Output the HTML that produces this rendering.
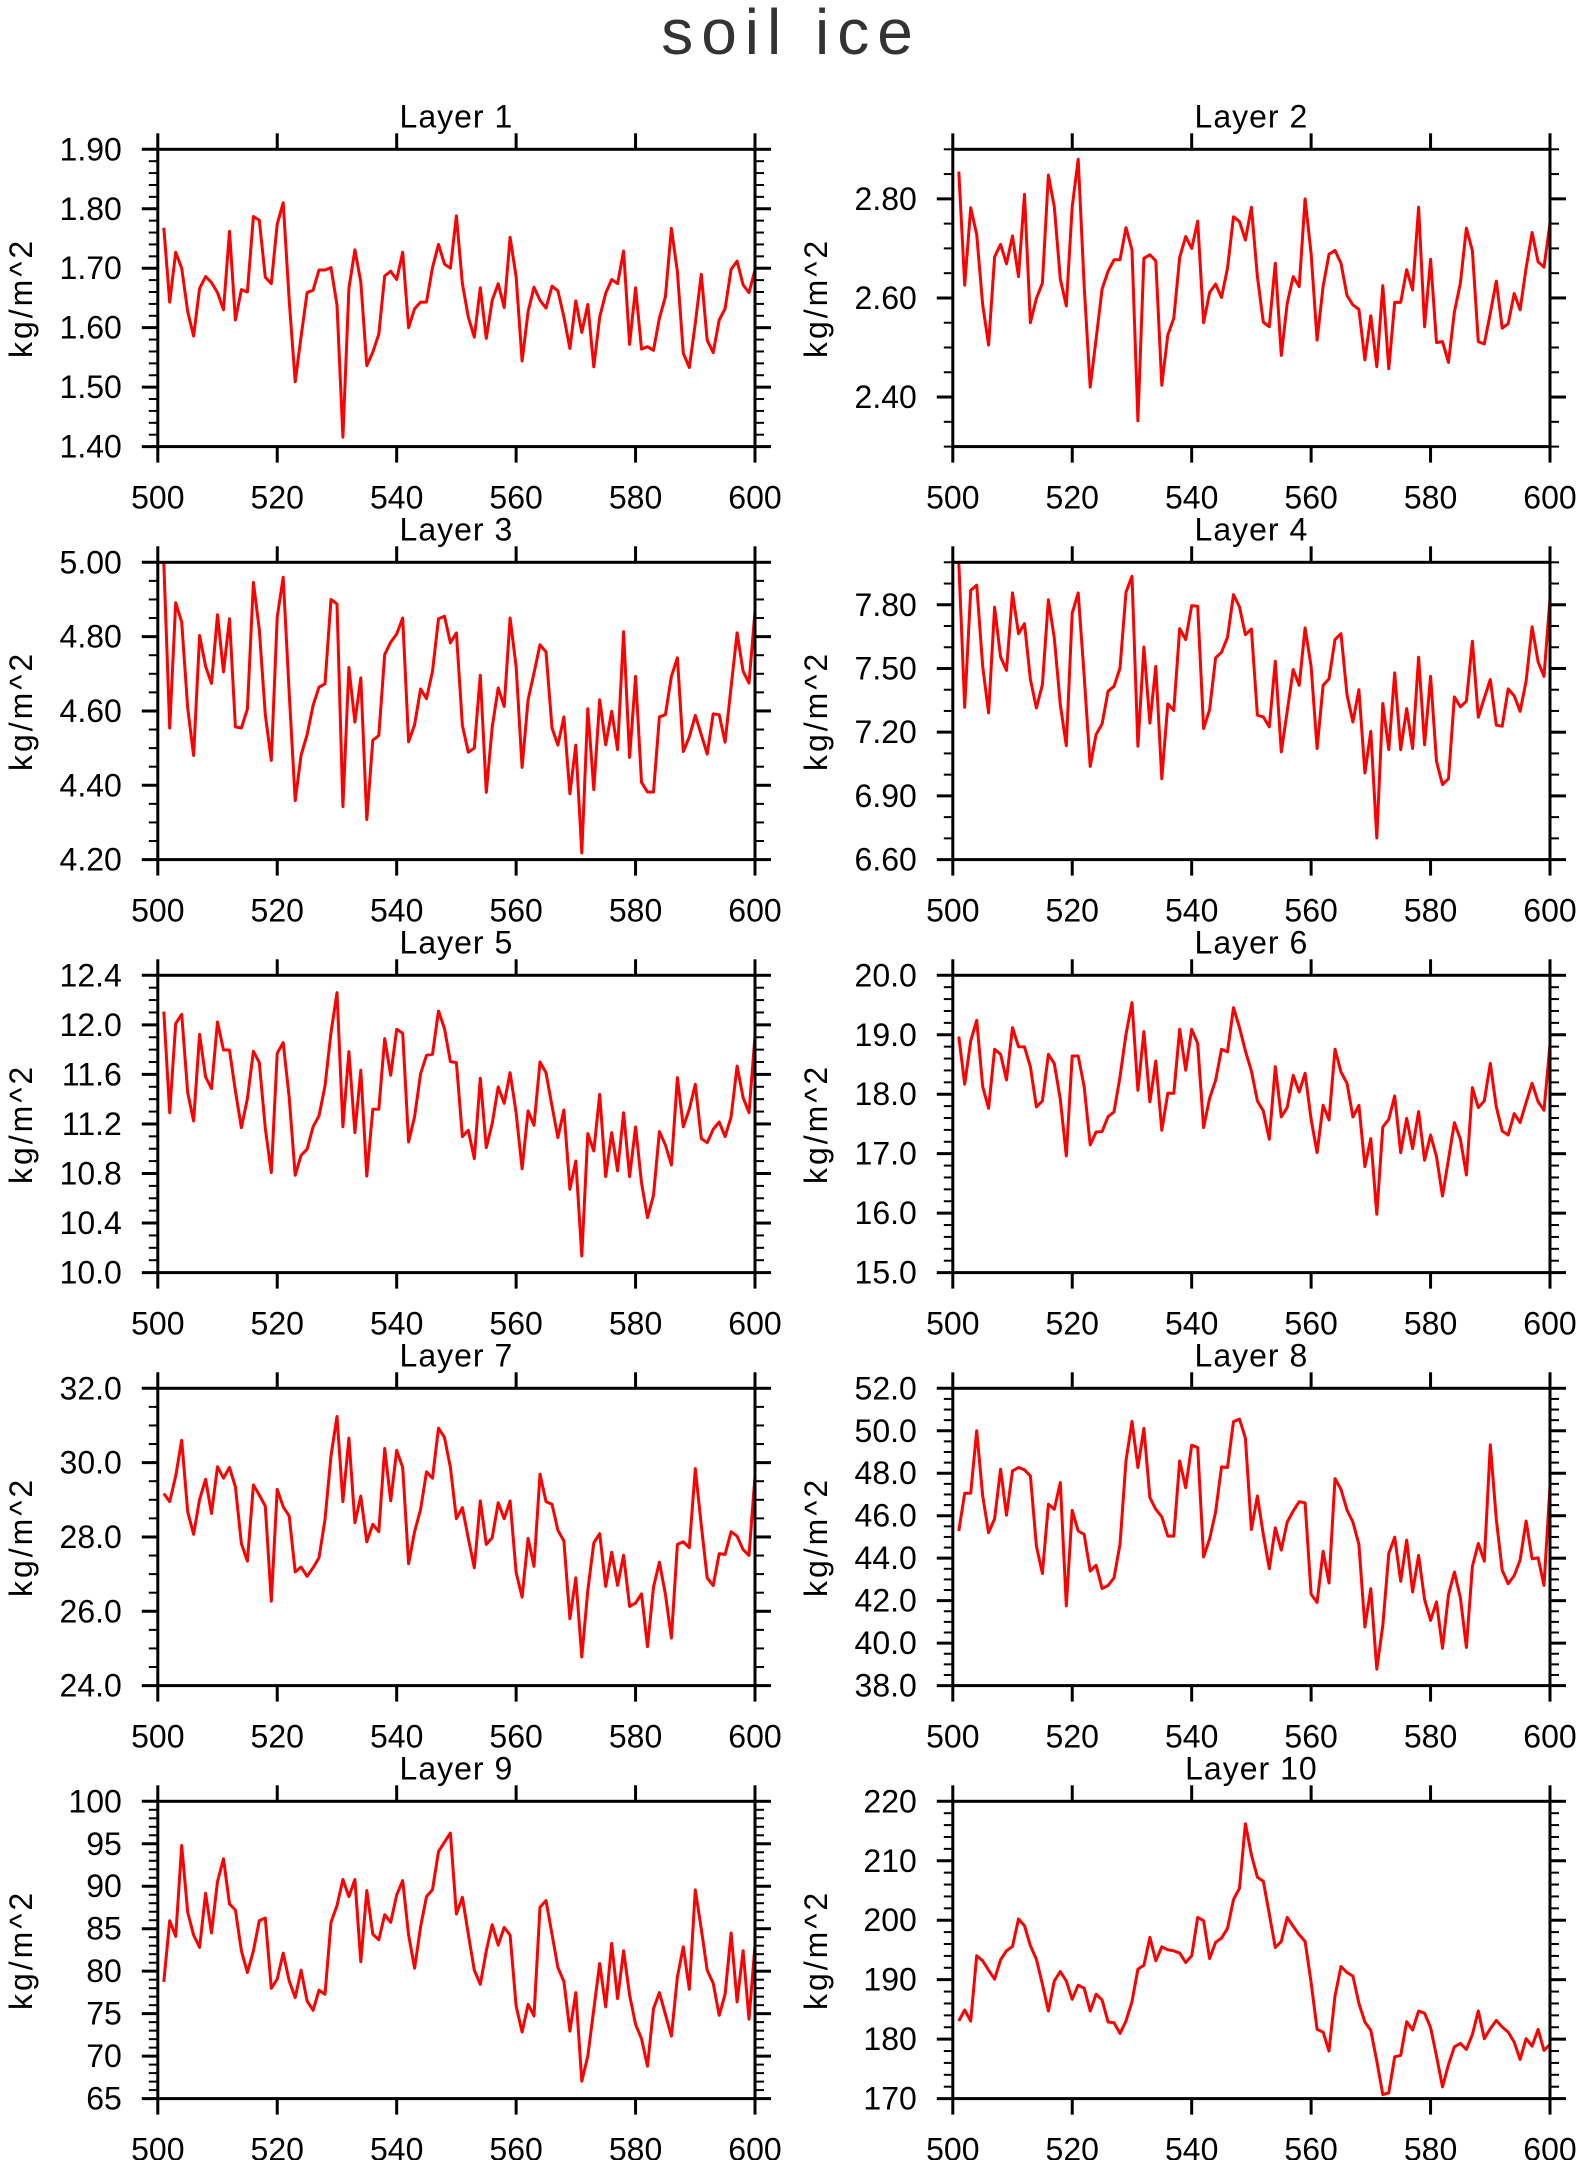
<!DOCTYPE html>
<html><head><meta charset="utf-8"><title>soil ice</title>
<style>html,body{margin:0;padding:0;background:#fff}svg{display:block}text{font-family:"Liberation Sans",sans-serif;fill:#000}</style>
</head><body>
<svg id="chart" xmlns="http://www.w3.org/2000/svg" width="1580" height="2160" viewBox="0 0 1580 2160">
<rect x="0" y="0" width="1580" height="2160" fill="#fff"/>
<text x="791" y="54" font-size="64" text-anchor="middle" letter-spacing="8" style="font-weight:normal;fill:#333">soil ice</text>
</svg>
<script>
const years = [];
for (let i = 501; i <= 600; i++) years.push(i);
const xTicks = [500, 520, 540, 560, 580, 600];
const layerNames = ["Layer 1","Layer 2","Layer 3","Layer 4","Layer 5","Layer 6","Layer 7","Layer 8","Layer 9","Layer 10"];
const layer1 = [1.768,1.643,1.727,1.700,1.627,1.586,1.666,1.686,1.676,1.659,1.630,1.762,1.613,1.664,1.660,1.787,1.781,1.685,1.674,1.774,1.810,1.646,1.509,1.585,1.659,1.663,1.697,1.697,1.701,1.638,1.416,1.666,1.731,1.677,1.536,1.559,1.589,1.687,1.695,1.681,1.727,1.600,1.632,1.643,1.643,1.701,1.740,1.707,1.700,1.788,1.674,1.618,1.584,1.667,1.582,1.646,1.674,1.634,1.752,1.686,1.544,1.627,1.668,1.646,1.633,1.670,1.662,1.618,1.565,1.645,1.592,1.639,1.534,1.618,1.658,1.681,1.674,1.729,1.572,1.667,1.564,1.568,1.562,1.616,1.652,1.767,1.694,1.557,1.533,1.607,1.690,1.579,1.558,1.613,1.632,1.698,1.712,1.672,1.659,1.697];
const layer2 = [2.855,2.626,2.782,2.728,2.586,2.505,2.683,2.708,2.669,2.725,2.643,2.809,2.550,2.599,2.630,2.848,2.784,2.638,2.584,2.784,2.880,2.623,2.420,2.517,2.618,2.654,2.677,2.677,2.742,2.697,2.352,2.680,2.687,2.675,2.424,2.525,2.559,2.682,2.724,2.700,2.755,2.550,2.611,2.628,2.601,2.660,2.764,2.754,2.717,2.783,2.643,2.551,2.542,2.670,2.484,2.589,2.643,2.623,2.800,2.690,2.515,2.623,2.688,2.696,2.670,2.605,2.586,2.577,2.475,2.564,2.461,2.625,2.457,2.591,2.591,2.657,2.616,2.783,2.542,2.678,2.510,2.512,2.470,2.572,2.630,2.741,2.695,2.512,2.507,2.569,2.634,2.539,2.548,2.609,2.576,2.660,2.732,2.673,2.662,2.751];
const layer3 = [5.000,4.554,4.891,4.839,4.608,4.480,4.803,4.720,4.674,4.859,4.705,4.848,4.557,4.554,4.605,4.946,4.819,4.590,4.467,4.852,4.960,4.648,4.359,4.481,4.536,4.615,4.664,4.673,4.900,4.888,4.343,4.717,4.570,4.689,4.308,4.521,4.534,4.752,4.785,4.807,4.850,4.517,4.563,4.659,4.633,4.707,4.848,4.855,4.783,4.810,4.561,4.489,4.500,4.696,4.381,4.556,4.662,4.612,4.850,4.720,4.448,4.630,4.702,4.778,4.759,4.554,4.508,4.584,4.377,4.508,4.218,4.606,4.388,4.630,4.509,4.599,4.496,4.813,4.475,4.693,4.408,4.382,4.382,4.584,4.590,4.693,4.743,4.491,4.530,4.588,4.536,4.484,4.592,4.590,4.516,4.665,4.810,4.707,4.675,4.868];
const layer4 = [8.000,7.317,7.868,7.892,7.510,7.291,7.788,7.554,7.491,7.856,7.664,7.711,7.448,7.314,7.424,7.824,7.644,7.330,7.137,7.761,7.856,7.463,7.039,7.189,7.239,7.393,7.416,7.502,7.859,7.934,7.134,7.601,7.243,7.510,6.981,7.333,7.302,7.688,7.636,7.796,7.793,7.217,7.306,7.550,7.576,7.647,7.848,7.790,7.659,7.686,7.280,7.272,7.225,7.534,7.107,7.298,7.495,7.421,7.691,7.510,7.123,7.421,7.451,7.636,7.664,7.377,7.248,7.400,7.008,7.204,6.702,7.335,7.118,7.479,7.118,7.311,7.123,7.553,7.141,7.463,7.063,6.953,6.981,7.366,7.319,7.346,7.628,7.270,7.361,7.448,7.233,7.228,7.404,7.372,7.298,7.440,7.696,7.531,7.463,7.832];
const layer5 = [12.107,11.291,12.010,12.085,11.453,11.224,11.924,11.579,11.485,12.023,11.797,11.797,11.466,11.170,11.404,11.787,11.695,11.165,10.807,11.770,11.857,11.413,10.786,10.947,10.996,11.178,11.265,11.507,11.937,12.260,11.178,11.784,11.130,11.633,10.780,11.318,11.318,11.889,11.593,11.964,11.932,11.055,11.259,11.606,11.754,11.762,12.112,11.970,11.703,11.695,11.098,11.149,10.920,11.569,11.009,11.203,11.499,11.367,11.614,11.291,10.839,11.305,11.189,11.700,11.614,11.345,11.090,11.313,10.673,10.901,10.135,11.122,10.982,11.439,10.775,11.130,10.821,11.291,10.775,11.176,10.726,10.444,10.624,11.138,11.030,10.869,11.574,11.178,11.318,11.520,11.082,11.049,11.157,11.216,11.098,11.257,11.668,11.413,11.291,11.910];
const layer6 = [18.969,18.167,18.896,19.243,18.128,17.763,18.756,18.672,18.240,19.120,18.800,18.795,18.459,17.786,17.887,18.672,18.515,17.915,16.962,18.643,18.643,18.122,17.147,17.365,17.371,17.623,17.702,18.290,19.008,19.540,18.066,19.053,17.870,18.559,17.394,18.016,18.016,19.092,18.402,19.092,18.851,17.438,17.932,18.234,18.756,18.711,19.456,19.120,18.728,18.391,17.887,17.719,17.242,18.464,17.618,17.775,18.318,18.038,18.352,17.578,17.018,17.814,17.567,18.756,18.374,18.184,17.618,17.814,16.782,17.253,15.981,17.450,17.578,17.971,17.018,17.595,17.085,17.707,16.889,17.315,16.951,16.289,16.906,17.522,17.242,16.642,18.111,17.775,17.887,18.520,17.786,17.382,17.315,17.674,17.522,17.859,18.184,17.876,17.730,18.840];
const layer7 = [29.17,28.95,29.64,30.60,28.68,28.07,29.01,29.55,28.63,29.89,29.58,29.87,29.35,27.82,27.35,29.40,29.13,28.83,26.27,29.28,28.81,28.56,27.06,27.19,26.94,27.17,27.44,28.47,30.18,31.24,28.95,30.66,28.38,29.10,27.87,28.34,28.14,30.38,28.97,30.33,29.87,27.28,28.14,28.74,29.75,29.58,30.93,30.68,29.87,28.49,28.79,27.96,27.17,28.97,27.80,27.98,28.92,28.49,28.97,27.05,26.38,27.96,27.21,29.69,28.95,28.88,28.18,27.89,25.80,26.90,24.77,26.56,27.84,28.09,26.67,27.59,26.70,27.51,26.13,26.22,26.47,25.05,26.65,27.32,26.46,25.28,27.80,27.87,27.71,29.84,28.31,26.90,26.69,27.55,27.53,28.14,28.02,27.66,27.50,29.64];
const layer8 = [45.28,47.06,47.06,50.00,46.93,45.20,45.86,48.19,46.02,48.11,48.27,48.16,47.87,44.57,43.28,46.54,46.30,47.56,41.76,46.25,45.28,45.12,43.39,43.67,42.57,42.72,43.07,44.65,48.58,50.44,48.27,50.11,46.85,46.30,45.95,45.04,45.04,48.58,47.32,49.32,49.21,44.06,44.91,46.17,48.30,48.27,50.43,50.55,49.65,45.35,46.93,45.12,43.51,45.43,44.38,45.70,46.22,46.66,46.61,42.31,41.92,44.33,42.83,47.75,47.24,46.27,45.70,44.65,40.76,42.57,38.77,40.83,44.22,44.99,42.91,44.85,42.41,44.13,42.05,41.07,41.94,39.76,42.28,43.35,42.13,39.80,43.62,44.69,43.86,49.34,45.83,43.43,42.80,43.18,43.91,45.75,43.97,44.02,42.72,47.40];
const layer9 = [78.74,85.94,84.09,94.80,86.93,84.25,82.80,89.17,84.49,90.55,93.23,87.91,87.20,82.40,79.84,82.40,85.94,86.26,77.99,79.06,82.13,78.86,76.89,80.12,76.50,75.39,77.76,77.28,85.75,87.72,90.79,88.78,90.79,81.10,89.49,84.37,83.70,86.65,85.75,88.98,90.67,84.25,80.35,85.24,88.78,89.61,94.09,95.20,96.26,86.73,88.70,84.37,80.12,78.46,82.40,85.47,83.07,85.16,84.25,75.91,72.84,76.10,74.72,87.52,88.31,84.37,80.43,78.78,72.95,77.48,67.05,70.00,75.51,80.91,75.79,83.27,76.77,82.40,77.20,73.74,72.05,68.82,75.59,77.48,74.92,72.36,79.33,82.87,77.87,89.57,84.96,80.12,78.58,74.80,77.28,84.49,76.38,82.40,74.33,83.07];
const layer10 = [183.05,184.90,183.05,194.02,193.17,191.60,190.08,193.34,194.86,195.59,200.20,199.08,195.70,193.45,189.23,184.74,189.80,191.37,189.80,186.70,189.07,188.56,184.74,187.55,186.59,182.88,182.77,180.97,183.05,186.31,191.77,192.44,197.11,193.17,195.53,195.03,194.86,194.47,192.89,194.02,200.48,199.92,193.57,196.27,197.00,198.63,203.46,205.38,216.23,211.00,207.23,206.56,201.05,195.42,196.43,200.48,198.97,197.56,196.43,189.52,181.64,181.19,177.99,187.27,192.22,191.20,190.64,186.03,182.88,181.47,176.30,170.67,170.96,177.03,177.26,182.94,181.53,184.74,184.34,181.92,177.14,171.97,175.74,178.72,179.28,178.27,180.80,184.74,180.07,181.76,183.16,182.04,181.19,179.50,176.58,180.07,178.83,181.64,178.10,179.11];
const layerValues = [layer1,layer2,layer3,layer4,layer5,layer6,layer7,layer8,layer9,layer10];
const yMins = [1.4,2.3,4.2,6.6,10.0,15,24,38,65,170];
const yMaxs = [1.9,2.9,5.0,8.0,12.4,20,32,52,100,220];
const yMajorStarts = [1.4,2.4,4.2,6.6,10.0,15,24,38,65,170];
const yMajorSteps = [0.1,0.2,0.2,0.3,0.4,1,2,2,5,10];
const yMinorSteps = [0.02,0.05,0.05,0.1,0.1,0.2,0.5,0.5,1,2];
const yDecimals = [2,2,2,2,1,1,1,1,0,0];

const NS = "http://www.w3.org/2000/svg";
const svg = document.getElementById("chart");
const colX = [157.8, 952.8];
const plotW = 597.2, plotH = 297.3;
const rowY = [149.3, 562.3, 975.3, 1388.3, 1801.3];
function mk(tag, attrs, parent) {
  const e = document.createElementNS(NS, tag);
  for (const k in attrs) e.setAttribute(k, attrs[k]);
  parent.appendChild(e);
  return e;
}
layerValues.forEach(function (vals, p) {
  const L = colX[p % 2], T = rowY[Math.floor(p / 2)];
  const R = L + plotW, B = T + plotH;
  const ymin = yMins[p], ymax = yMaxs[p];
  const sx = v => L + (v - 500) / 100 * plotW;
  const sy = v => B - (v - ymin) / (ymax - ymin) * plotH;
  const g = mk("g", {}, svg);
  
  
  const t = mk("text", {x: L + plotW / 2, y: T - 22, "font-size": 32, "text-anchor": "middle", "letter-spacing": 1}, g);
  t.textContent = layerNames[p];
  
  
  const yt = mk("text", {x: 0, y: 0, "font-size": 32, "text-anchor": "middle", "letter-spacing": 3, transform: "translate(" + (L - 126) + "," + (T + plotH / 2) + ") rotate(-90)"}, g);
  yt.textContent = "kg/m^2";
  
  
  const nMinor = Math.round((ymax - ymin) / yMinorSteps[p]);
  for (let i = 0; i <= nMinor; i++) {
    const v = ymin + i * yMinorSteps[p], y = sy(v);
    const a = mk("line", {x1: L - 9, x2: L, y1: y, y2: y, stroke: "#000", "stroke-width": 2}, g);
    
    
    const b = mk("line", {x1: R, x2: R + 9, y1: y, y2: y, stroke: "#000", "stroke-width": 2}, g);
    
    
  }
  for (let v = yMajorStarts[p]; v <= ymax + 1e-9; v += yMajorSteps[p]) {
    const y = sy(v);
    const a = mk("line", {x1: L - 16, x2: L, y1: y, y2: y, stroke: "#000", "stroke-width": 3}, g);
    
    
    const b = mk("line", {x1: R, x2: R + 16, y1: y, y2: y, stroke: "#000", "stroke-width": 3}, g);
    
    
    const lb = mk("text", {x: L - 36, y: y + 11, "font-size": 32, "text-anchor": "end"}, g);
    lb.textContent = v.toFixed(yDecimals[p]);
    
    
  }
  xTicks.forEach(function (xv) {
    const x = sx(xv);
    const a = mk("line", {x1: x, x2: x, y1: T - 16, y2: T, stroke: "#000", "stroke-width": 3}, g);
    
    
    const b = mk("line", {x1: x, x2: x, y1: B, y2: B + 16, stroke: "#000", "stroke-width": 3}, g);
    
    
    const lb = mk("text", {x: x, y: B + 62, "font-size": 32, "text-anchor": "middle"}, g);
    lb.textContent = String(xv);
    
    
  });
  const clipId = "clip" + p;
  const cp = mk("clipPath", {id: clipId}, g);
  mk("rect", {x: L, y: T, width: plotW, height: plotH}, cp);
  const pts = vals.map((v, i) => sx(years[i]).toFixed(1) + "," + sy(v).toFixed(1)).join(" ");
  const pl = mk("polyline", {points: pts, fill: "none", stroke: "#ff0000", "stroke-width": 3, "stroke-linejoin": "round", "clip-path": "url(#" + clipId + ")"}, g);
  
  
  const fr = mk("rect", {x: L, y: T, width: plotW, height: plotH, fill: "none", stroke: "#000", "stroke-width": 3}, g);
  
  
});
</script>
</body></html>
